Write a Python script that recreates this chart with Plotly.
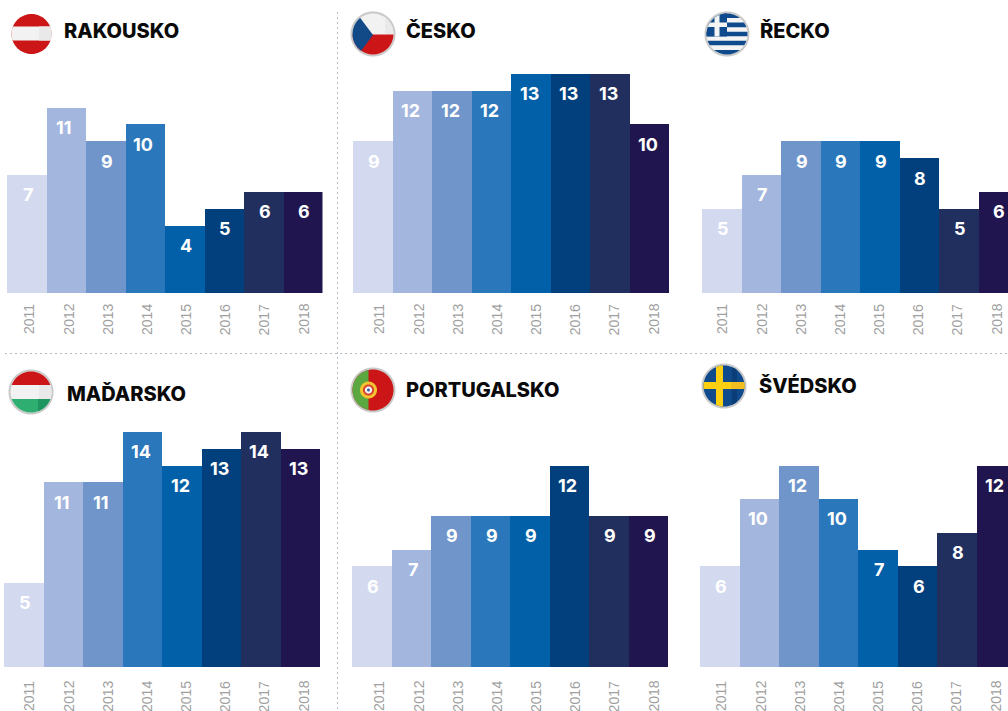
import math
import plotly.graph_objects as go

YEARS = [2011, 2012, 2013, 2014, 2015, 2016, 2017, 2018]
COLORS = ["#d3daef", "#a3b6dd", "#6f95cb", "#2a78bb", "#0260a8", "#023f7d", "#212f5f", "#20154f"]

RAKOUSKO = [7, 11, 9, 10, 4, 5, 6, 6]
CESKO = [9, 12, 12, 12, 13, 13, 13, 10]
RECKO = [5, 7, 9, 9, 9, 8, 5, 6]
MADARSKO = [5, 11, 11, 14, 12, 13, 14, 13]
PORTUGALSKO = [6, 7, 9, 9, 9, 12, 9, 9]
SVEDSKO = [6, 10, 12, 10, 7, 6, 8, 12]

W, H = 1008, 711
BAR_W = 39.5
LABEL_STEP = 39.15

# name, values, left px, baseline px, px per unit, title x, title y, first tick-label centre px, tick-label top gap px
PANELS = [
    ("RAKOUSKO", RAKOUSKO, 6.5, 293, 16.86, 64, 31, 29, 11),
    ("ČESKO", CESKO, 353, 293, 16.86, 406, 31, 379, 11),
    ("ŘECKO", RECKO, 701.5, 293, 16.86, 760, 31, 722, 11),
    ("MAĎARSKO", MADARSKO, 4, 667, 16.81, 67, 393, 29, 14),
    ("PORTUGALSKO", PORTUGALSKO, 352, 667, 16.81, 406, 390, 379, 14),
    ("ŠVÉDSKO", SVEDSKO, 700, 667, 16.81, 759, 385, 721, 14),
]


def px(x):
    return x / W


def py(y):
    return 1 - y / H


fig = go.Figure()
annotations = []
shapes = []
for i, (name, vals, left, base, unit, tx, ty, lab0, gap) in enumerate(PANELS, start=1):
    right = min(left + BAR_W * 8, W)
    top = base - unit * 14
    xa = f"x{i}" if i > 1 else "x"
    ya = f"y{i}" if i > 1 else "y"
    fig.add_trace(go.Bar(x=YEARS, y=vals, marker=dict(color=COLORS, line_width=0), width=1,
                         xaxis=xa, yaxis=ya, showlegend=False, hoverinfo="x+y"))
    suffix = "" if i == 1 else str(i)
    fig.layout[f"xaxis{suffix}"] = dict(
        domain=[px(left), px(right)], range=[2010.5, 2010.5 + (right - left) / BAR_W],
        showticklabels=False, ticks="", showgrid=False, zeroline=False, showline=False, anchor=ya)
    fig.layout[f"yaxis{suffix}"] = dict(domain=[py(base), py(top)], range=[0, 14], visible=False, anchor=xa)
    for k, (year, v) in enumerate(zip(YEARS, vals)):
        annotations.append(dict(x=year, y=v, xref=xa, yref=ya, yshift=-20, xshift=1.5 if v < 10 else -1.5,
                                text=str(v), showarrow=False,
                                font=dict(family="Inter", size=18, color="white", weight=700)))
        shift = lab0 + k * LABEL_STEP - (left + (k + 0.5) * BAR_W)
        annotations.append(dict(x=year, y=0, xref=xa, yref=ya, yanchor="top", yshift=-gap + 2, xshift=shift,
                                text=str(year), showarrow=False, textangle=-90,
                                font=dict(family="Liberation Sans", size=14, color="#9f9f9f")))
    annotations.append(dict(x=px(tx - 2), y=py(ty), xref="paper", yref="paper", text=name, showarrow=False,
                            xanchor="left", yanchor="middle",
                            font=dict(family="Inter", size=20, color="#0a0a0a", weight=800)))


def circle_pts(cx, cy, r, n=72):
    return [(cx + r * math.cos(2 * math.pi * k / n), cy + r * math.sin(2 * math.pi * k / n)) for k in range(n)]


def clip(poly, a, b, c):
    """keep points with a*x + b*y <= c"""
    out = []
    for k, p in enumerate(poly):
        q = poly[(k + 1) % len(poly)]
        dp = a * p[0] + b * p[1] - c
        dq = a * q[0] + b * q[1] - c
        if dp <= 0:
            out.append(p)
        if dp * dq < 0:
            t = dp / (dp - dq)
            out.append((p[0] + t * (q[0] - p[0]), p[1] + t * (q[1] - p[1])))
    return out


def add_poly(poly, color):
    if len(poly) < 3:
        return
    path = "M" + "L".join(f"{px(x):.5f},{py(y):.5f}" for x, y in poly) + "Z"
    shapes.append(dict(type="path", path=path, xref="paper", yref="paper", fillcolor=color,
                       line=dict(width=0), layer="above"))


def disc(cx, cy, r, color):
    add_poly(circle_pts(cx, cy, r), color)


def band(cx, cy, r, color, x0=None, x1=None, y0=None, y1=None):
    poly = circle_pts(cx, cy, r)
    if x0 is not None:
        poly = clip(poly, -1, 0, -x0)
    if x1 is not None:
        poly = clip(poly, 1, 0, x1)
    if y0 is not None:
        poly = clip(poly, 0, -1, -y0)
    if y1 is not None:
        poly = clip(poly, 0, 1, y1)
    add_poly(poly, color)


RING = "#c9c9c9"
RED = "#cc1517"

# Austria
c = (31.5, 34, 20)
disc(*c, RED)
band(*c, "#f2f2f2", y0=26.5, y1=40.5)
band(*c, "#e9e9e9", x0=39, y0=26.5, y1=40.5)

# Czechia
disc(373, 34, 22.5, RING)
c = (373, 34, 20.5)
disc(*c, "#f2f2f2")
band(*c, "#e9e9e9", x0=385, y1=34.5)
band(*c, RED, y0=34.5)
tri = clip(clip(circle_pts(*c), 24, -18, 24 * 373 - 18 * 35), 24, 18, 24 * 373 + 18 * 35)
add_poly(tri, "#124a87")

# Greece
disc(727, 34, 22.5, RING)
c = (727, 34, 20.5)
disc(*c, "#f4f4f4")
BLUE = "#0f4a8d"
for k in range(0, 9, 2):
    y0 = 13.5 + k * 4.55
    band(*c, BLUE, y0=y0, y1=y0 + 4.55)
band(*c, BLUE, x1=727, y1=36.5)
band(*c, "#f4f4f4", x0=714.5, x1=719.5, y1=36.5)
band(*c, "#f4f4f4", x1=727, y0=22.5, y1=27)

# Hungary
disc(31, 392, 22.5, RING)
c = (31, 392, 20.5)
disc(*c, "#f2f2f2")
band(*c, "#e9e9e9", x0=39, y0=385, y1=399)
band(*c, RED, y1=385)
band(*c, "#2fae72", y0=399)
band(*c, "#1f9660", x0=38, y0=399)

# Portugal
disc(373, 390, 22.5, RING)
c = (373, 390, 20.5)
disc(*c, RED)
band(*c, "#5aa83f", x1=368.5)
disc(368.5, 390, 8.5, "#f4c430")
disc(368.5, 390, 5.5, "#d8402f")
disc(368.5, 390, 3.6, "#f5f5f5")
disc(368.5, 390, 1.5, "#3a5da8")

# Sweden
disc(724, 386, 22.5, RING)
c = (724, 386, 20.5)
disc(*c, "#0f4a8d")
band(*c, "#0b3d78", x0=732, x1=737)
band(*c, "#fccf12", x0=716, x1=723)
band(*c, "#fccf12", y0=382, y1=389)
band(*c, "#f2bd20", x0=731, y0=382, y1=389)

# dividers
DOT = dict(color="#b4bec6", width=1, dash="2px,3px")
shapes.append(dict(type="line", xref="paper", yref="paper", x0=px(337.5), x1=px(337.5), y0=py(12), y1=0, line=DOT))
shapes.append(dict(type="line", xref="paper", yref="paper", x0=px(5), x1=1, y0=py(353.5), y1=py(353.5), line=DOT))

fig.update_layout(width=W, height=H, margin=dict(l=0, r=0, t=0, b=0), plot_bgcolor="white", paper_bgcolor="white",
                  bargap=0, annotations=annotations, shapes=shapes)
fig.write_html("out.html", config=dict(displayModeBar=False), post_script="document.body.style.margin='0';")
